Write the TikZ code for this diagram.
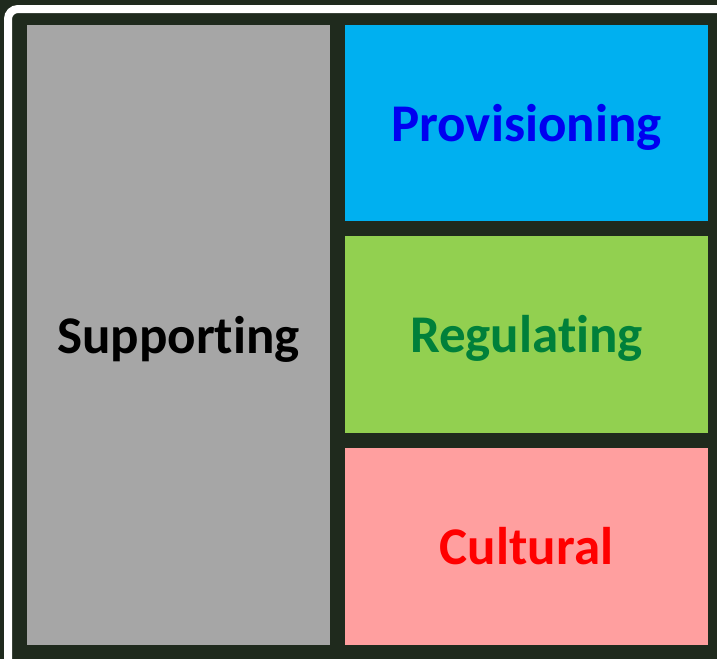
\documentclass[tikz,border=0pt]{standalone}
\usepackage{fontspec}
\setmainfont{Carlito}[Ligatures={NoCommon}]
\usepackage{tikz}
\definecolor{forest}{HTML}{1F2A1D}
\definecolor{frame}{HTML}{FFFFFF}
\definecolor{supportfill}{HTML}{A6A6A6}
\definecolor{provfill}{HTML}{00B0F0}
\definecolor{provtext}{HTML}{0000F0}
\definecolor{regfill}{HTML}{92D050}
\definecolor{regtext}{HTML}{00803A}
\definecolor{cultfill}{HTML}{FF9F9F}
\definecolor{culttext}{HTML}{FF0000}
\tikzset{
  service/.style={
    inner sep=0pt,
    align=center,
    text height=36pt,
    text depth=0pt,
    font=\fontsize{53}{60}\selectfont\bfseries
  },
  column/.style={
    service,
    fill=supportfill,
    minimum width=303pt,
    minimum height=620pt
  },
  tile/.style={
    service,
    minimum width=363pt,
    minimum height=197pt
  }
}

\begin{document}
\begin{tikzpicture}[x=1pt,y=-1pt]
  \useasboundingbox (0,0) rectangle (717,659);
  \clip (0,0) rectangle (717,659);
  % dark canopy behind everything
  \fill[forest] (0,0) rectangle (717,659);
  \draw[frame, line width=8pt, rounded corners=10pt] (8,9) rectangle (760,700);
  % the four service groups
  \node[column] (support) at (178.5,335) {Supporting};
  \node[tile, fill=provfill, text=provtext, minimum height=196pt] (prov) at (526.5,123) {Provisioning};
  \node[tile, fill=regfill, text=regtext] (reg) at (526.5,334.5) {Regulating};
  \node[tile, fill=cultfill, text=culttext] (cult) at (526.5,546.5) {Cultural};
\end{tikzpicture}
\end{document}
